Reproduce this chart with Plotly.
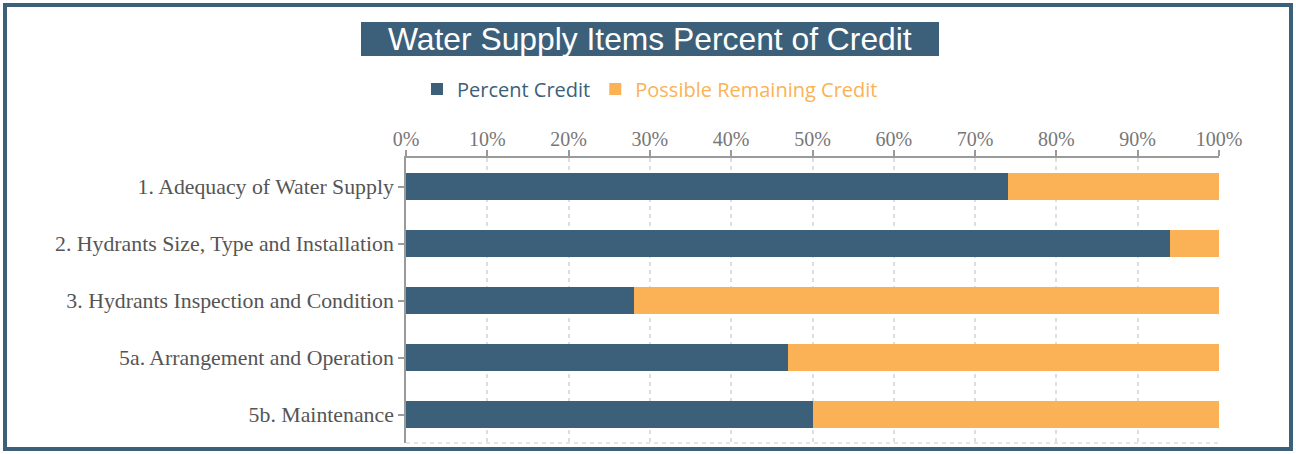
import plotly.graph_objects as go

categories = [
    "1. Adequacy of Water Supply",
    "2. Hydrants Size, Type and Installation",
    "3. Hydrants Inspection and Condition",
    "5a. Arrangement and Operation",
    "5b. Maintenance",
]
percent_credit = [0.74, 0.94, 0.28, 0.47, 0.50]
remaining_credit = [round(1 - v, 2) for v in percent_credit]
x_ticks = [i / 10 for i in range(11)]
x_tick_labels = [f"{i*10}%" for i in range(11)]

DARK = "#3c5f7a"
ORANGE = "#fbb256"

W, H = 1296, 454
L, R, T, B = 406, 77, 158, 11
pw = W - L - R
ph = H - T - B

def px(x):
    return (x - L) / pw

def py(y):
    return (H - B - y) / ph

fig = go.Figure()
fig.add_trace(go.Bar(
    y=categories, x=percent_credit, orientation="h",
    name="Percent Credit", marker=dict(color=DARK, line=dict(width=0)),
))
fig.add_trace(go.Bar(
    y=categories, x=remaining_credit, orientation="h",
    name=f'<span style="color:{ORANGE}">Possible Remaining Credit</span>',
    marker=dict(color=ORANGE, line=dict(width=0)),
))

fig.update_layout(
    width=W, height=H,
    barmode="stack", bargap=0.53,
    margin=dict(l=L, r=R, t=T, b=B, autoexpand=False),
    paper_bgcolor="white", plot_bgcolor="white",
    showlegend=True,
    legend=dict(
        orientation="h", x=px(650), xanchor="center",
        xref="paper", y=py(89), yanchor="middle",
        font=dict(family="Open Sans", size=20, color=DARK),
        traceorder="normal", itemwidth=30, itemsizing="constant",
    ),
    xaxis=dict(
        side="top", range=[0, 1], tickvals=x_ticks, ticktext=x_tick_labels,
        showgrid=True, gridcolor="#dedede", griddash="4px,4px", gridwidth=1.5,
        showline=True, linecolor="#9a9a9a", linewidth=1.5,
        ticks="outside", ticklen=6, tickcolor="#9a9a9a", tickwidth=1.5,
        ticklabelstandoff=-4,
        tickfont=dict(family="Liberation Serif", size=20, color="#777"),
        zeroline=False, fixedrange=True,
    ),
    yaxis=dict(
        autorange="reversed",
        showline=True, linecolor="#9a9a9a", linewidth=1.5,
        ticks="outside", ticklen=6, tickcolor="#9a9a9a", tickwidth=1.5,
        tickfont=dict(family="Liberation Serif", size=21.8, color="#555"),
        showgrid=False, fixedrange=True,
    ),
    shapes=[
        dict(type="rect", xref="paper", yref="paper",
             x0=px(5), x1=px(W - 5), y0=py(H - 5), y1=py(5),
             line=dict(color=DARK, width=4), fillcolor="rgba(0,0,0,0)", layer="above"),
        dict(type="rect", xref="paper", yref="paper",
             x0=px(361), x1=px(939), y0=py(56), y1=py(22),
             line=dict(width=0), fillcolor=DARK, layer="below"),
        dict(type="line", xref="paper", yref="paper",
             x0=0, x1=1, y0=0, y1=0,
             line=dict(color="#dedede", width=1.5, dash="4px,4px"), layer="below"),
    ],
    annotations=[
        dict(text="Water Supply Items Percent of Credit", xref="paper", yref="paper",
             x=px(650), y=py(39), xanchor="center", yanchor="middle", showarrow=False,
             font=dict(family="Liberation Sans", size=31.8, color="white")),
    ],
)

fig.write_html(
    "out.html",
    config={"displayModeBar": False},
    post_script="document.body.style.margin='0';document.body.style.overflow='hidden';",
)
